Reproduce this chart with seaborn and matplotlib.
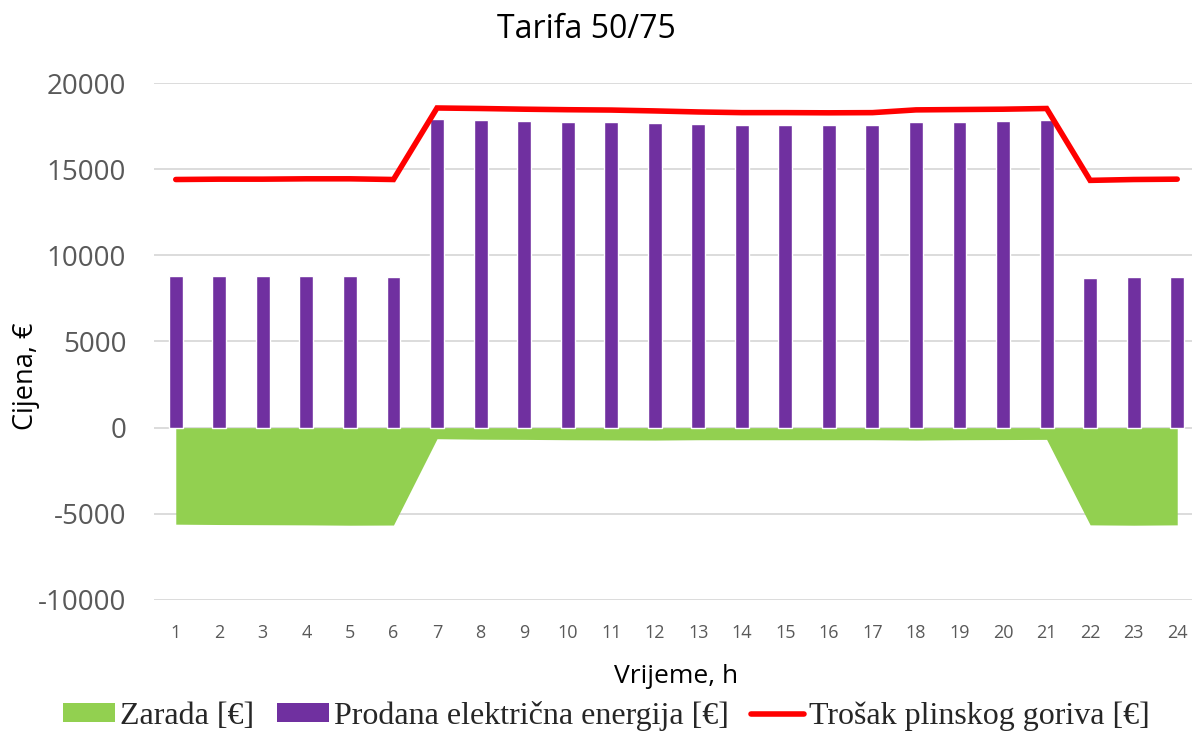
import numpy as np
import pandas as pd
import matplotlib
matplotlib.use("Agg")
import matplotlib.pyplot as plt
import seaborn as sns
from matplotlib.patches import Patch
from matplotlib.lines import Line2D

hours = list(range(1, 25))
prodana = [8780, 8780, 8780, 8780, 8790, 8740,
           17890, 17840, 17800, 17750, 17715, 17660, 17620, 17580, 17560,
           17560, 17560, 17715, 17750, 17790, 17830,
           8700, 8720, 8770]
trosak = [14400, 14420, 14420, 14440, 14440, 14400,
          18550, 18520, 18480, 18450, 18430, 18380, 18320, 18280, 18280,
          18270, 18280, 18440, 18460, 18480, 18520,
          14350, 14400, 14420]
zarada = [-5600, -5620, -5630, -5640, -5660, -5650,
          -640, -670, -680, -700, -710, -720, -700, -700, -700,
          -700, -700, -720, -700, -690, -680,
          -5640, -5660, -5640]

df = pd.DataFrame({"sat": [str(h) for h in hours], "pos": np.arange(len(hours)),
                   "prodana": prodana, "trosak": trosak, "zarada": zarada})

sns.set_theme(style="white")
plt.rcParams["font.family"] = ["Open Sans", "DejaVu Sans"]
plt.rcParams["axes.unicode_minus"] = False

c_green = "#92D050"
c_purple = "#7030A0"
c_red = "#FF0000"
c_grid = "#D9D9D9"
c_tick = "#595959"

fig = plt.figure(figsize=(11.92, 7.35), dpi=100)
ax = fig.add_axes([154 / 1192, 1 - 600 / 735, (1199 - 154) / 1192, (600 - 83) / 735])

for y in range(-10000, 20001, 5000):
    ax.axhline(y, color=c_grid, lw=1.3, zorder=0)

ax.fill_between(df["pos"], 0, df["zarada"], color=c_green, lw=0, zorder=1)
sns.barplot(data=df, x="sat", y="prodana", color=c_purple, width=0.32,
            saturation=1, ax=ax, zorder=2)
sns.lineplot(data=df, x="pos", y="trosak", color=c_red, lw=4, ax=ax,
             zorder=3, solid_capstyle="round", solid_joinstyle="miter")

ax.set_xlim(-0.5, 23.5)
ax.set_ylim(-10000, 20000)
ax.set_yticks(range(-10000, 20001, 5000))
ax.set_xticks(range(len(hours)))
ax.set_xticklabels([str(h) for h in hours])
for s in ax.spines.values():
    s.set_visible(False)
ax.tick_params(axis="y", labelsize=20, colors=c_tick, length=0, pad=20)
ax.tick_params(axis="x", labelsize=13, colors=c_tick, length=0, pad=17)

ax.set_xlabel("Vrijeme, h", fontsize=19, color="black", labelpad=16)
ax.set_ylabel("")
fig.text(26 / 1192, 1 - 376 / 735, "Cijena, €", fontsize=19.5, rotation=90,
         ha="center", va="center", color="black")
fig.text(586 / 1192, 1 - 29 / 735, "Tarifa 50/75", fontsize=23, ha="center",
         va="center", color="black")

handles = [Patch(facecolor=c_green, edgecolor="none"),
           Patch(facecolor=c_purple, edgecolor="none"),
           Line2D([0], [0], color=c_red, lw=4)]
labels = ["Zarada [€]", "Prodana električna energija [€]", "Trošak plinskog goriva [€]"]
fig.legend(handles, labels, loc="center", bbox_to_anchor=(606 / 1192, 1 - 716 / 735),
           ncol=3, frameon=False, prop={"family": "Liberation Serif", "size": 23},
           handlelength=1.65, handleheight=0.55, handletextpad=0.15,
           columnspacing=0.7, borderpad=0)

fig.savefig("out.png", dpi=100)
